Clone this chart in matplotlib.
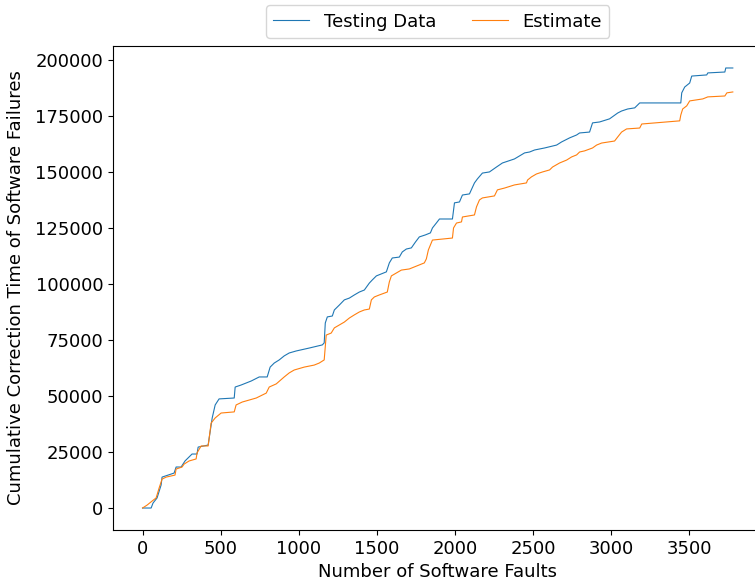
import matplotlib
matplotlib.use("Agg")
import matplotlib.pyplot as plt

# breakpoints (fault count, cumulative correction time)
testing_faults = [0, 55, 67, 93, 119, 125, 202, 215, 247, 272, 317, 349, 356, 420, 446, 465,
                  490, 587, 593, 631, 696, 747, 798, 817, 843, 875, 907, 939, 984, 1067,
                  1151, 1163, 1170, 1183, 1215, 1228, 1260, 1292, 1324, 1356, 1388, 1420,
                  1452, 1471, 1497, 1529, 1561, 1580, 1599, 1644, 1663, 1689, 1721, 1747,
                  1772, 1811, 1843, 1856, 1881, 1901, 1984, 1997, 2029, 2048, 2093, 2125,
                  2144, 2176, 2221, 2266, 2304, 2381, 2446, 2478, 2510, 2574, 2651, 2683,
                  2734, 2779, 2798, 2862, 2881, 2926, 2990, 3042, 3067, 3106, 3151, 3183,
                  3446, 3452, 3471, 3503, 3516, 3612, 3619, 3728, 3734, 3779]
testing_time = [0, 0, 2200, 4500, 10300, 13800, 15600, 18300, 18300, 21000, 24100, 24100,
                27200, 28100, 40200, 46000, 48700, 49100, 54000, 54900, 56700, 58500, 58500,
                62900, 64700, 66100, 67900, 69200, 70100, 71400, 72800, 73700, 82600, 85300,
                85700, 88400, 90600, 92900, 93700, 95100, 96400, 97300, 100400, 101800,
                103600, 104500, 105400, 109400, 111600, 112000, 114300, 115600, 116100,
                118700, 121000, 121900, 122800, 125000, 127200, 129000, 129000, 136200,
                136600, 139700, 140200, 145100, 146900, 149500, 150000, 152200, 154000,
                155800, 158500, 158900, 159800, 160700, 162000, 163400, 165200, 166500,
                167400, 167800, 171900, 172300, 173700, 176300, 177200, 178100, 178600,
                180800, 180800, 185300, 187900, 189700, 192800, 193300, 194200, 194600,
                196400, 196400]

estimate_faults = [0, 29, 61, 87, 106, 125, 151, 208, 215, 253, 266, 298, 343, 349, 375, 420,
                   439, 465, 503, 587, 599, 638, 728, 792, 811, 856, 907, 939, 971, 1035,
                   1099, 1131, 1163, 1176, 1208, 1228, 1260, 1292, 1324, 1356, 1388, 1420,
                   1452, 1465, 1484, 1516, 1567, 1580, 1593, 1625, 1657, 1708, 1740, 1772,
                   1804, 1817, 1830, 1856, 1984, 1991, 2010, 2042, 2048, 2125, 2138, 2157,
                   2176, 2253, 2272, 2317, 2381, 2458, 2465, 2490, 2522, 2561, 2606, 2625,
                   2670, 2715, 2747, 2779, 2798, 2830, 2881, 2907, 2939, 3022, 3042, 3067,
                   3099, 3183, 3196, 3439, 3446, 3458, 3484, 3503, 3587, 3619, 3728, 3741,
                   3779]
estimate_time = [0, 1300, 3100, 4500, 8900, 12900, 13800, 14700, 17400, 18300, 19600, 21000,
                 21900, 24600, 27700, 27700, 37900, 40200, 42400, 42900, 46000, 47300, 49100,
                 51300, 54000, 55400, 58500, 60300, 61600, 62900, 63800, 64700, 66100, 77200,
                 78100, 80400, 81700, 83000, 84800, 86200, 87500, 88400, 88800, 92900, 94200,
                 95100, 96400, 100900, 103600, 104900, 106200, 106700, 107600, 108500,
                 109400, 111200, 115200, 119600, 120500, 125000, 127200, 127700, 129900,
                 130800, 134400, 137500, 138400, 139300, 142000, 142800, 144200, 145100,
                 146400, 147800, 149100, 150000, 150900, 152200, 154000, 155300, 156700,
                 157600, 158900, 159400, 160700, 162000, 162900, 163800, 165600, 167800,
                 169200, 169600, 171400, 172800, 175400, 178100, 179500, 181700, 182600,
                 183500, 183900, 185300, 185700]

fig = plt.figure(figsize=(7.55, 5.88), dpi=100)
ax = fig.add_axes([0.1497, 0.0986, 0.86, 0.8232])

ax.plot(testing_faults, testing_time, color="#1f77b4", linewidth=0.8, label="Testing Data")
ax.plot(estimate_faults, estimate_time, color="#ff7f0e", linewidth=0.8, label="Estimate")

ax.set_xlabel("Number of Software Faults", fontsize=13)
ax.set_ylabel("Cumulative Correction Time of Software Failures", fontsize=13, labelpad=7)
ax.tick_params(labelsize=13)
ax.legend(loc="lower center", bbox_to_anchor=(0.5, 1.0), borderaxespad=0.45,
          ncol=2, fontsize=13)

fig.savefig("out.png", dpi=100)
